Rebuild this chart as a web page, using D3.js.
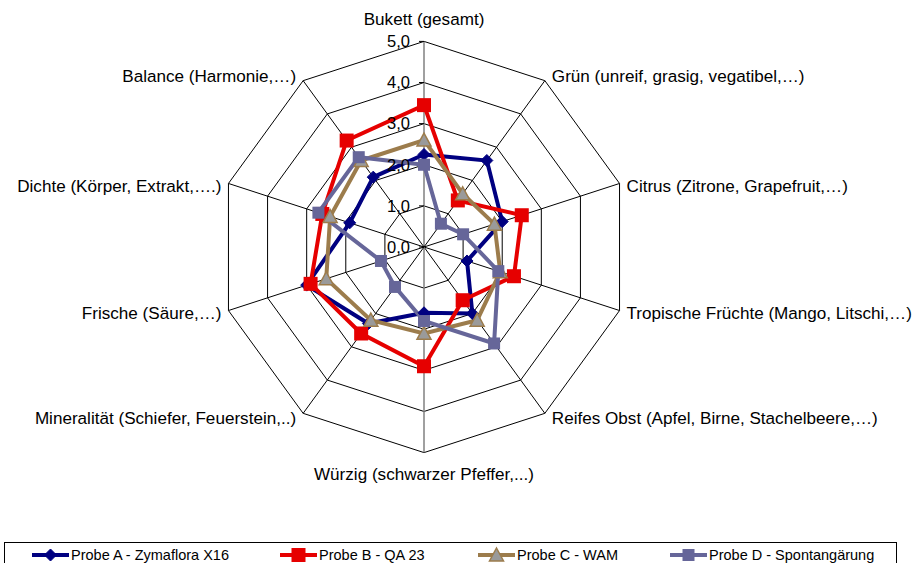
<!DOCTYPE html>
<html><head><meta charset="utf-8">
<script src="https://cdn.jsdelivr.net/npm/d3@7"></script>
<style>
body{margin:0;background:#fff;}
svg{display:block;font-family:"Liberation Sans",Arial,sans-serif;}
</style></head>
<body>
<svg id="chart" width="914" height="563"></svg>
<script>
const categories = [
  "Bukett (gesamt)",
  "Grün (unreif, grasig, vegatibel,…)",
  "Citrus (Zitrone, Grapefruit,…)",
  "Tropische Früchte (Mango, Litschi,…)",
  "Reifes Obst (Apfel, Birne, Stachelbeere,…)",
  "Würzig (schwarzer Pfeffer,...)",
  "Mineralität (Schiefer, Feuerstein,..)",
  "Frische (Säure,…)",
  "Dichte (Körper, Extrakt,….)",
  "Balance (Harmonie,…)"
];
const seriesNames = ["Probe A - Zymaflora X16", "Probe B - QA 23", "Probe C - WAM", "Probe D - Spontangärung"];
const probeA = [2.25, 2.6, 2.0, 1.1, 2.0, 1.6, 2.3, 3.0, 1.9, 2.1];
const probeB = [3.45, 1.4, 2.5, 2.3, 1.6, 2.9, 2.6, 2.9, 2.6, 3.2];
const probeC = [2.6, 1.6, 1.8, 1.95, 2.2, 2.1, 2.2, 2.5, 2.4, 2.6];
const probeD = [2.0, 0.7, 1.0, 1.9, 2.9, 1.8, 1.2, 1.1, 2.7, 2.7];
const tickValues = [0, 1, 2, 3, 4, 5];
const tickLabels = ["0,0", "1,0", "2,0", "3,0", "4,0", "5,0"];

const colors = ["#000080", "#e60000", "#9c7c4c", "#666699"];
const markers = ["diamond", "square", "triangle", "square"];
const allSeries = [probeA, probeB, probeC, probeD];

const svg = d3.select("#chart");
const cx = 424, cy = 247;
const r = d3.scaleLinear().domain([0, 5]).range([0, 205.6]);
const ang = d3.scaleLinear().domain([0, categories.length]).range([0, 2 * Math.PI]);
const pt = (i, v) => [cx + Math.sin(ang(i)) * r(v), cy - Math.cos(ang(i)) * r(v)];

const g = svg.append("g");
// rings
tickValues.filter(t => t > 0).forEach(t => {
  const pts = categories.map((c, i) => pt(i, t));
  g.append("polygon").attr("points", pts.map(p => p.join(",")).join(" "))
    .attr("fill", "none").attr("stroke", "#000").attr("stroke-width", 1);
});
// spokes
categories.forEach((c, i) => {
  const p = pt(i, 5);
  g.append("line").attr("x1", cx).attr("y1", cy).attr("x2", p[0]).attr("y2", p[1])
    .attr("stroke", (i === 0 || i === 5) ? "#808080" : "#000").attr("stroke-width", (i === 0 || i === 5) ? 1.5 : 1);
});
// value axis ticks
tickValues.forEach((t, k) => {
  const y = cy - r(t);
  g.append("line").attr("x1", cx - 5).attr("x2", cx).attr("y1", y).attr("y2", y).attr("stroke", "#000");
});

// series
const line = d3.line().curve(d3.curveLinearClosed);
allSeries.forEach((s, si) => {
  const pts = s.map((v, i) => pt(i, v));
  g.append("path").attr("d", line(pts)).attr("fill", "none")
    .attr("stroke", colors[si]).attr("stroke-width", 4).attr("stroke-linejoin", "miter");
});
function drawMarker(sel, type, x, y, col, big) {
  const h = big ? 7 : 6;
  if (type === "diamond") {
    sel.append("path").attr("d", `M${x},${y - 6}L${x + 6},${y}L${x},${y + 6}L${x - 6},${y}Z`)
      .attr("fill", col).attr("stroke", col);
  } else if (type === "square") {
    sel.append("rect").attr("x", x - h).attr("y", y - h).attr("width", 2 * h).attr("height", 2 * h)
      .attr("fill", col).attr("stroke", "none");
  } else {
    sel.append("path").attr("d", `M${x},${y - 7}L${x + 7},${y + 6}L${x - 7},${y + 6}Z`)
      .attr("fill", "#9a9a9a").attr("stroke", col).attr("stroke-width", 1.5);
  }
}
allSeries.forEach((s, si) => {
  s.forEach((v, i) => {
    const p = pt(i, v);
    drawMarker(g, markers[si], p[0], p[1], colors[si], si === 1);
  });
});

// tick labels
tickValues.forEach((t, k) => {
  g.append("text").attr("x", cx - 14).attr("y", cy - r(t)).attr("dy", "0.35em")
    .attr("text-anchor", "end").attr("font-size", 16.5).attr("fill", "#000").text(tickLabels[k]);
});

// category labels
const yShift = [0, -5, 2.5, 2.5, 5, 0, 5, 2.5, 2.5, -5];
categories.forEach((c, i) => {
  const p = pt(i, 5);
  const s = Math.sin(ang(i));
  let x = p[0], y = p[1] + yShift[i], anchor = "middle";
  if (Math.abs(s) < 0.01) {
    y = i === 0 ? p[1] - 22 : p[1] + 21;
  } else if (s > 0) { x = p[0] + 7; anchor = "start"; }
  else { x = p[0] - 7; anchor = "end"; }
  g.append("text").attr("x", x).attr("y", y).attr("dy", "0.35em").attr("text-anchor", anchor)
    .attr("font-size", 17.1).attr("fill", "#000").text(c);
});

// legend
const leg = svg.append("g");
leg.append("rect").attr("x", 4.5).attr("y", 542.5).attr("width", 892).attr("height", 40)
  .attr("fill", "#fff").attr("stroke", "#000").attr("stroke-width", 1);
const legX = [32, 280, 478, 670];
seriesNames.forEach((n, si) => {
  const x0 = legX[si], y0 = 555;
  leg.append("line").attr("x1", x0).attr("x2", x0 + 37).attr("y1", y0).attr("y2", y0)
    .attr("stroke", colors[si]).attr("stroke-width", 4);
  drawMarker(leg, markers[si], x0 + 18.5, y0, colors[si], si === 1);
  leg.append("text").attr("x", x0 + 39).attr("y", y0).attr("dy", "0.35em")
    .attr("font-size", 14.5).attr("fill", "#000").text(n);
});
</script>
</body></html>
